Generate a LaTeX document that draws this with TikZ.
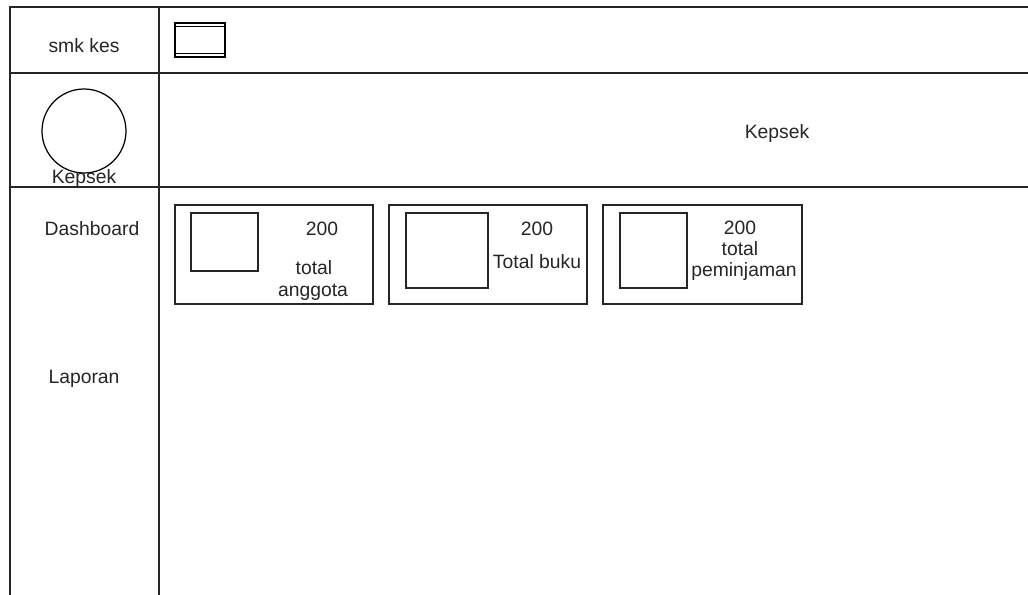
\documentclass[tikz,border=0pt]{standalone}
\usepackage{fontspec}
\setmainfont{Liberation Sans}
\usetikzlibrary{positioning}

\tikzset{
  frame/.style={line width=0.9pt,black!85},
  card/.style={line width=0.8pt,black!85},
  lbl/.style={font=\fontsize{11}{12.5}\selectfont,text=black!85,inner sep=0pt,align=center}
}

\begin{document}
\begin{tikzpicture}[x=0.02cm,y=-0.02cm]
  \useasboundingbox[fill=white] (0,0) rectangle (1028,595);

  % outer frame, open at the right and at the bottom
  \draw[frame] (1028,7) -- (10,7) -- (10,595);
  \draw[frame] (159,7) -- (159,595);
  \draw[frame] (10,73) -- (1028,73);
  \draw[frame] (10,187) -- (1028,187);

  % top bar
  \node[lbl] (brand) at (84,46) {smk kes};
  \draw[line width=0.6pt] (175,23) rectangle (225,57);
  \draw[line width=0.5pt] (175,26) -- (225,26);
  \draw[line width=0.5pt] (175,53) -- (225,53);

  % user row
  \draw[line width=0.7pt] (84,131) circle (42);
  \node[lbl] (avatar) at (84,179) {Kepsek};
  \node[lbl] (user) at (777,134) {Kepsek};

  % side menu
  \node[lbl] (dash) at (92,229) {Dashboard};
  \node[lbl] (lap) at (84,379) {Laporan};

  % cards
  \draw[card] (175,205) rectangle (373,304);
  \draw[card] (191,213) rectangle (258,271);
  \node[lbl] (nA) at (322,229) {200};
  \node[lbl] (tA) at (314,268) {total};
  \node[lbl] (tA2) at (313,292) {anggota};

  \draw[card] (389,205) rectangle (587,304);
  \draw[card] (406,213) rectangle (488,288);
  \node[lbl] (nB) at (537,229) {200};
  \node[lbl] (tB) at (537,262) {Total buku};

  \draw[card] (603,205) rectangle (802,304);
  \draw[card] (620,213) rectangle (687,288);
  \node[lbl] (nC) at (740,228) {200};
  \node[lbl] (tC) at (740,249) {total};
  \node[lbl] (tC2) at (744,271) {peminjaman};
\end{tikzpicture}
\end{document}
